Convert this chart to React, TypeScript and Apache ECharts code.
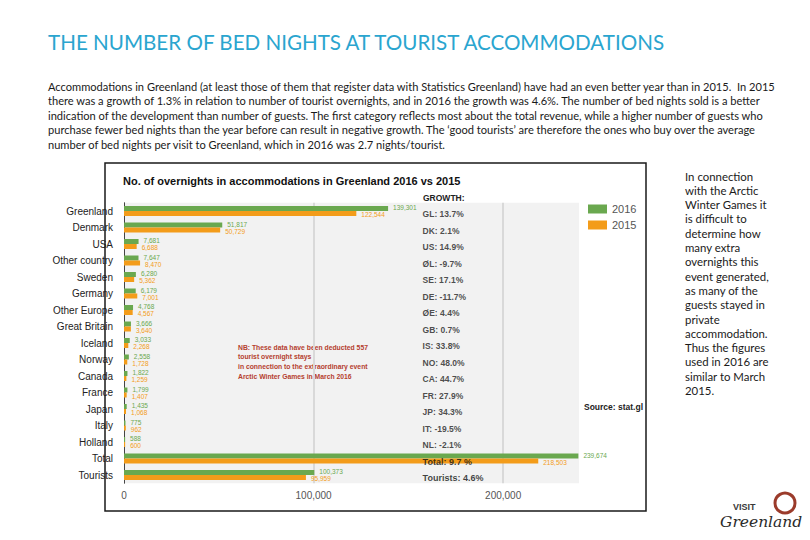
import React, { useEffect, useRef } from "react";
import * as echarts from "echarts";

const categories = ["Greenland", "Denmark", "USA", "Other country", "Sweden", "Germany", "Other Europe", "Great Britain", "Iceland", "Norway", "Canada", "France", "Japan", "Italy", "Holland", "Total", "Tourists"];
const values2016 = [139301, 51817, 7681, 7647, 6280, 6179, 4768, 3666, 3033, 2558, 1822, 1799, 1435, 775, 588, 239674, 100373];
const values2015 = [122544, 50729, 6688, 8470, 5362, 7001, 4567, 3640, 2268, 1728, 1259, 1407, 1068, 962, 600, 218503, 95959];
const growthLabels = ["GL: 13.7%", "DK: 2.1%", "US: 14.9%", "ØL: -9.7%", "SE: 17.1%", "DE: -11.7%", "ØE: 4.4%", "GB: 0.7%", "IS: 33.8%", "NO: 48.0%", "CA: 44.7%", "FR: 27.9%", "JP: 34.3%", "IT: -19.5%", "NL: -2.1%", "Total: 9.7 %", "Tourists: 4.6%"];
const seriesNames = ["2016", "2015"];
const xMax = 240000;
const xInterval = 100000;
const growthColumnX = 157500;

const pageTitle = "THE NUMBER OF BED NIGHTS AT TOURIST ACCOMMODATIONS";
const bodyLines = [
  "Accommodations in Greenland (at least those of them that register data with Statistics Greenland) have had an even better year than in 2015.  In 2015",
  "there was a growth of 1.3% in relation to number of tourist overnights, and in 2016 the growth was 4.6%. The number of bed nights sold is a better",
  "indication of the development than number of guests. The first category reflects most about the total revenue, while a higher number of guests who",
  "purchase fewer bed nights than the year before can result in negative growth. The \u2018good tourists\u2019 are therefore the ones who buy over the average",
  "number of bed nights per visit to Greenland, which in 2016 was 2.7 nights/tourist.",
];
const sideLines = ["In connection", "with the Arctic", "Winter Games it", "is difficult to", "determine how", "many extra", "overnights this", "event generated,", "as many of the", "guests stayed in", "private", "accommodation.", "Thus the figures", "used in 2016 are", "similar to March", "2015."];
const nbLines = ["NB: These data have been deducted 557", "tourist overnight stays", "in connection to the extraordinary event", "Arctic Winter Games in March 2016"];
const chartTitle = "No. of overnights in accommodations in Greenland 2016 vs 2015";

const GREEN = "#6aa84f";
const ORANGE = "#f39c1a";
const fmt = (v: number) => v.toLocaleString("en-US");

export default function App() {
  const ref = useRef<HTMLDivElement>(null);
  useEffect(() => {
    if (!ref.current) return;
    const chart = echarts.init(ref.current, null, { renderer: "svg" });
    const sans = "'Liberation Sans', Arial, sans-serif";
    const body = "Lato, 'Open Sans', sans-serif";

    const graphic: any[] = [];
    graphic.push({ type: "rect", shape: { x: 105, y: 163, width: 541, height: 348 }, style: { fill: "none", stroke: "#1a1a1a", lineWidth: 1.5 }, z: 10 });
    graphic.push({ type: "text", x: 48, y: 42, style: { text: pageTitle, fill: "#2aa5cf", font: `20.6px ${body}`, verticalAlign: "middle" } });
    bodyLines.forEach((t, i) => graphic.push({ type: "text", x: 48, y: 86 + i * 14.5, style: { text: t, fill: "#1a1a1a", font: `11.1px ${body}`, verticalAlign: "middle" } }));
    sideLines.forEach((t, i) => graphic.push({ type: "text", x: 685, y: 176 + i * 14.3, style: { text: t, fill: "#1a1a1a", font: `11.4px ${body}`, verticalAlign: "middle" } }));
    graphic.push({ type: "text", x: 123, y: 181, style: { text: chartTitle, fill: "#111", font: `bold 11px ${sans}`, verticalAlign: "middle" } });
    graphic.push({ type: "text", x: 423, y: 198, style: { text: "GROWTH:", fill: "#222", font: `bold 8.5px ${sans}`, verticalAlign: "middle" } });
    nbLines.forEach((t, i) => graphic.push({ type: "text", x: 238, y: 347 + i * 9.7, style: { text: t, fill: "#b5402f", font: `bold 6.8px ${sans}`, verticalAlign: "middle" } }));
    graphic.push({ type: "text", x: 584, y: 407, style: { text: "Source: stat.gl", fill: "#222", font: `bold 8.5px ${sans}`, verticalAlign: "middle" } });
    // logo
    graphic.push({ type: "text", x: 733, y: 507, style: { text: "VISIT", fill: "#3a3a3a", font: `bold 9px ${sans}`, verticalAlign: "middle" } });
    graphic.push({ type: "circle", shape: { cx: 785, cy: 503, r: 10 }, style: { fill: "none", stroke: "#9b3b2b", lineWidth: 3 } });
    graphic.push({ type: "text", x: 720, y: 522, style: { text: "Greenland", fill: "#2b2b2b", font: `italic 15.5px 'DejaVu Serif', serif`, verticalAlign: "middle" } });

    const labelCommon = { show: true, position: "right", distance: 5, fontSize: 6.5, lineHeight: 6, fontFamily: sans, formatter: (p: any) => fmt(p.value) };

    chart.setOption({
      animation: false,
      grid: { left: 124, top: 202.75, width: 455, height: 280.5, show: true, backgroundColor: "#f2f2f2", borderWidth: 0, containLabel: false },
      legend: {
        data: seriesNames, orient: "vertical", left: 588, top: 203, padding: 0, itemWidth: 19, itemHeight: 9, itemGap: 4,
        icon: "rect", textStyle: { fontSize: 11, color: "#555", fontFamily: sans, lineHeight: 12 },
      },
      xAxis: {
        type: "value", min: 0, max: xMax, interval: xInterval,
        axisLine: { show: false }, axisTick: { show: false },
        axisLabel: { color: "#555", fontSize: 10, fontFamily: sans, formatter: (v: number) => fmt(v), showMaxLabel: false, margin: 7 },
        splitLine: { show: true, lineStyle: { color: "#d9d9d9", width: 2 }, showMaxLine: false, showMinLine: false },
      },
      yAxis: {
        type: "category", data: categories, inverse: true,
        axisLine: { show: true, lineStyle: { color: "#444", width: 1 } }, axisTick: { show: false },
        axisLabel: { color: "#222", fontSize: 10, fontFamily: sans, margin: 11 },
      },
      series: [
        { name: seriesNames[0], type: "bar", data: values2016, barWidth: 5, barGap: "0%", itemStyle: { color: GREEN }, label: { ...labelCommon, color: GREEN, offset: [0, -1] } },
        { name: seriesNames[1], type: "bar", data: values2015, barWidth: 5, barGap: "0%", itemStyle: { color: ORANGE }, label: { ...labelCommon, color: ORANGE, offset: [0, 1] } },
        {
          name: "growth", type: "scatter", symbolSize: 0, silent: true,
          data: growthLabels.map((g, i) => [growthColumnX, i]),
          label: {
            show: true, position: "right", distance: 0, offset: [0, 3],
            formatter: (p: any) => {
              const t = growthLabels[p.dataIndex];
              return p.dataIndex >= 15 ? `{b|${t}}` : t;
            },
            fontSize: 8.5, fontWeight: "bold", color: "#222", fontFamily: sans,
            rich: { b: { fontSize: 9, fontWeight: 900, color: "#111", fontFamily: sans } },
          },
          z: 5,
        },
      ],
      graphic,
    });
    return () => chart.dispose();
  }, []);
  return <div ref={ref} style={{ position: "absolute", left: 0, top: 0, width: 810, height: 540 }} />;
}
